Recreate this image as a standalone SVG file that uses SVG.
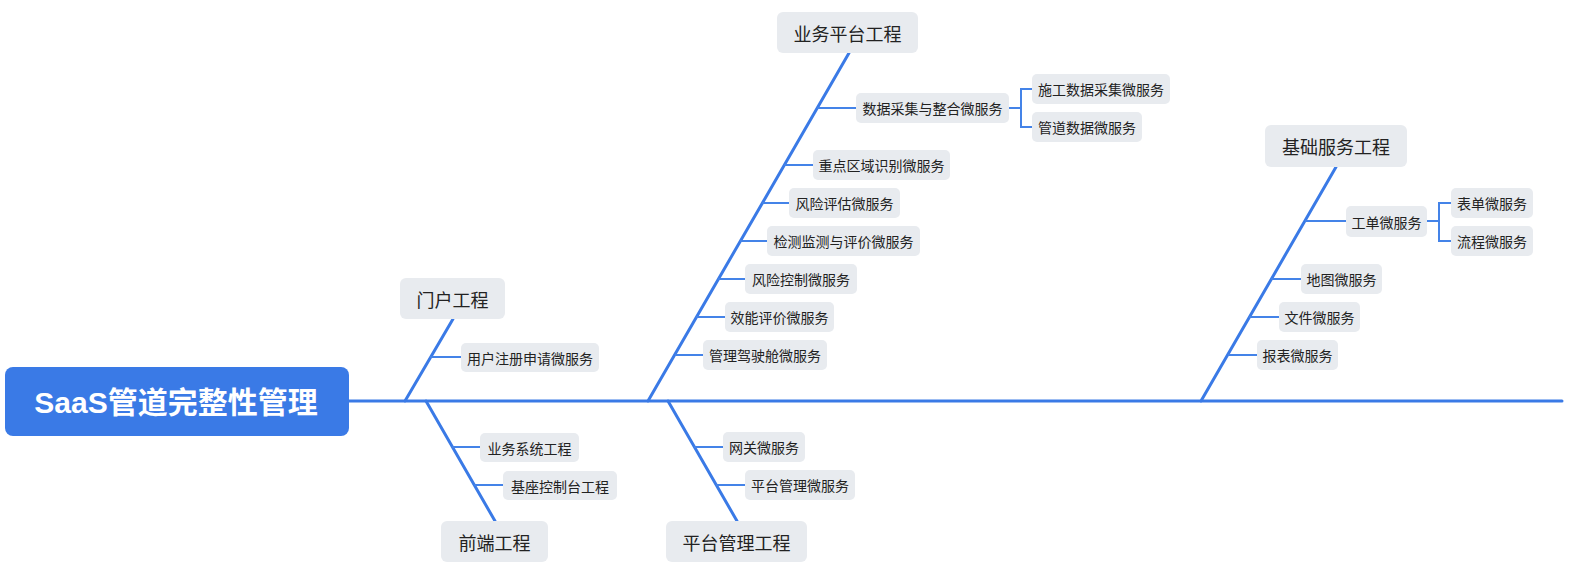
<svg xmlns="http://www.w3.org/2000/svg" width="1569" height="570" viewBox="0 0 1569 570">
<style>
.main{stroke:#3a7ae6;stroke-width:3;fill:none;stroke-linecap:round}
.sub{stroke:#4483e8;stroke-width:2;fill:none}
.box{fill:#e8ebef}
.t1{font-family:"Noto Sans CJK SC","Noto Sans",sans-serif;font-size:18px;fill:#222;text-anchor:middle;dominant-baseline:central}
.t2{font-family:"Noto Sans CJK SC","Noto Sans",sans-serif;font-size:14px;fill:#222;text-anchor:middle;dominant-baseline:central}
.root{font-family:"Liberation Sans","Noto Sans CJK SC",sans-serif;font-size:30px;font-weight:bold;fill:#fff;text-anchor:middle}
</style>
<rect width="1569" height="570" fill="#fff"/>
<g id="connectors">
<line class="main" x1="349" y1="401" x2="1562" y2="401"/>
<line class="main" x1="405" y1="401" x2="453" y2="319"/>
<line class="main" x1="426" y1="401" x2="495" y2="521"/>
<line class="main" x1="648" y1="401" x2="849" y2="53"/>
<line class="main" x1="668" y1="401" x2="737" y2="521"/>
<line class="main" x1="1201" y1="401" x2="1336" y2="167"/>
<line class="sub" x1="430" y1="357" x2="461" y2="357"/>
<line class="sub" x1="452" y1="447" x2="480" y2="447"/>
<line class="sub" x1="474" y1="485" x2="503" y2="485"/>
<line class="sub" x1="817" y1="108" x2="856" y2="108"/>
<line class="sub" x1="784" y1="165" x2="813" y2="165"/>
<line class="sub" x1="762" y1="203" x2="789" y2="203"/>
<line class="sub" x1="740" y1="241" x2="767" y2="241"/>
<line class="sub" x1="718" y1="279" x2="745" y2="279"/>
<line class="sub" x1="696" y1="317" x2="725" y2="317"/>
<line class="sub" x1="675" y1="355" x2="703" y2="355"/>
<line class="sub" x1="694" y1="447" x2="723" y2="447"/>
<line class="sub" x1="716" y1="485" x2="745" y2="485"/>
<line class="sub" x1="1305" y1="221" x2="1346" y2="221"/>
<line class="sub" x1="1271" y1="279" x2="1301" y2="279"/>
<line class="sub" x1="1249" y1="317" x2="1279" y2="317"/>
<line class="sub" x1="1228" y1="355" x2="1257" y2="355"/>
<path class="sub" d="M1009 108H1021M1032 89H1021V127H1032"/>
<path class="sub" d="M1427 221H1439M1451 203H1439V241H1451"/>
</g>
<g id="root"><rect x="5" y="367" width="344" height="69" rx="8" fill="#3a7ae6"/><text class="root" x="176" y="413">SaaS管道完整性管理</text></g>
<g id="n-menhu"><rect class="box" x="400" y="278" width="105" height="41" rx="6"/><text class="t1" x="452.5" y="298.5">门户工程</text></g>
<g id="n-yonghu"><rect class="box" x="461" y="343" width="138" height="29" rx="5"/><text class="t2" x="530" y="357.5">用户注册申请微服务</text></g>
<g id="n-qianduan"><rect class="box" x="441" y="521" width="107" height="41" rx="6"/><text class="t1" x="494.5" y="541.5">前端工程</text></g>
<g id="n-yewuxitong"><rect class="box" x="480" y="433" width="99" height="29" rx="5"/><text class="t2" x="529.5" y="447.5">业务系统工程</text></g>
<g id="n-jizuo"><rect class="box" x="503" y="471" width="114" height="29" rx="5"/><text class="t2" x="560" y="485.5">基座控制台工程</text></g>
<g id="n-yewupingtai"><rect class="box" x="777" y="12" width="141" height="41" rx="6"/><text class="t1" x="847.5" y="32.5">业务平台工程</text></g>
<g id="n-shuju"><rect class="box" x="856" y="93" width="153" height="30" rx="5"/><text class="t2" x="932.5" y="108">数据采集与整合微服务</text></g>
<g id="n-shigong"><rect class="box" x="1032" y="74" width="138" height="30" rx="5"/><text class="t2" x="1101" y="89">施工数据采集微服务</text></g>
<g id="n-guandao"><rect class="box" x="1032" y="112" width="110" height="30" rx="5"/><text class="t2" x="1087" y="127">管道数据微服务</text></g>
<g id="n-zhongdian"><rect class="box" x="813" y="150" width="137" height="30" rx="5"/><text class="t2" x="881.5" y="165">重点区域识别微服务</text></g>
<g id="n-fengxianpg"><rect class="box" x="789" y="188" width="111" height="30" rx="5"/><text class="t2" x="844.5" y="203">风险评估微服务</text></g>
<g id="n-jiance"><rect class="box" x="767" y="226" width="153" height="30" rx="5"/><text class="t2" x="843.5" y="241">检测监测与评价微服务</text></g>
<g id="n-fengxiankz"><rect class="box" x="745" y="264" width="112" height="30" rx="5"/><text class="t2" x="801" y="279">风险控制微服务</text></g>
<g id="n-xiaoneng"><rect class="box" x="725" y="302" width="109" height="30" rx="5"/><text class="t2" x="779.5" y="317">效能评价微服务</text></g>
<g id="n-jiashicang"><rect class="box" x="703" y="340" width="124" height="30" rx="5"/><text class="t2" x="765" y="355">管理驾驶舱微服务</text></g>
<g id="n-pingtaiguanli"><rect class="box" x="666" y="521" width="141" height="41" rx="6"/><text class="t1" x="736.5" y="541.5">平台管理工程</text></g>
<g id="n-wangguan"><rect class="box" x="723" y="432" width="82" height="30" rx="5"/><text class="t2" x="764" y="447">网关微服务</text></g>
<g id="n-pingtaigl"><rect class="box" x="745" y="470" width="110" height="30" rx="5"/><text class="t2" x="800" y="485">平台管理微服务</text></g>
<g id="n-jichu"><rect class="box" x="1265" y="125" width="142" height="42" rx="6"/><text class="t1" x="1336" y="146">基础服务工程</text></g>
<g id="n-gongdan"><rect class="box" x="1346" y="206" width="81" height="31" rx="5"/><text class="t2" x="1386.5" y="221.5">工单微服务</text></g>
<g id="n-biaodan"><rect class="box" x="1451" y="188" width="82" height="30" rx="5"/><text class="t2" x="1492" y="203">表单微服务</text></g>
<g id="n-liucheng"><rect class="box" x="1451" y="226" width="82" height="30" rx="5"/><text class="t2" x="1492" y="241">流程微服务</text></g>
<g id="n-ditu"><rect class="box" x="1301" y="264" width="81" height="30" rx="5"/><text class="t2" x="1341.5" y="279">地图微服务</text></g>
<g id="n-wenjian"><rect class="box" x="1279" y="302" width="81" height="30" rx="5"/><text class="t2" x="1319.5" y="317">文件微服务</text></g>
<g id="n-baobiao"><rect class="box" x="1257" y="340" width="81" height="30" rx="5"/><text class="t2" x="1297.5" y="355">报表微服务</text></g>
</svg>
